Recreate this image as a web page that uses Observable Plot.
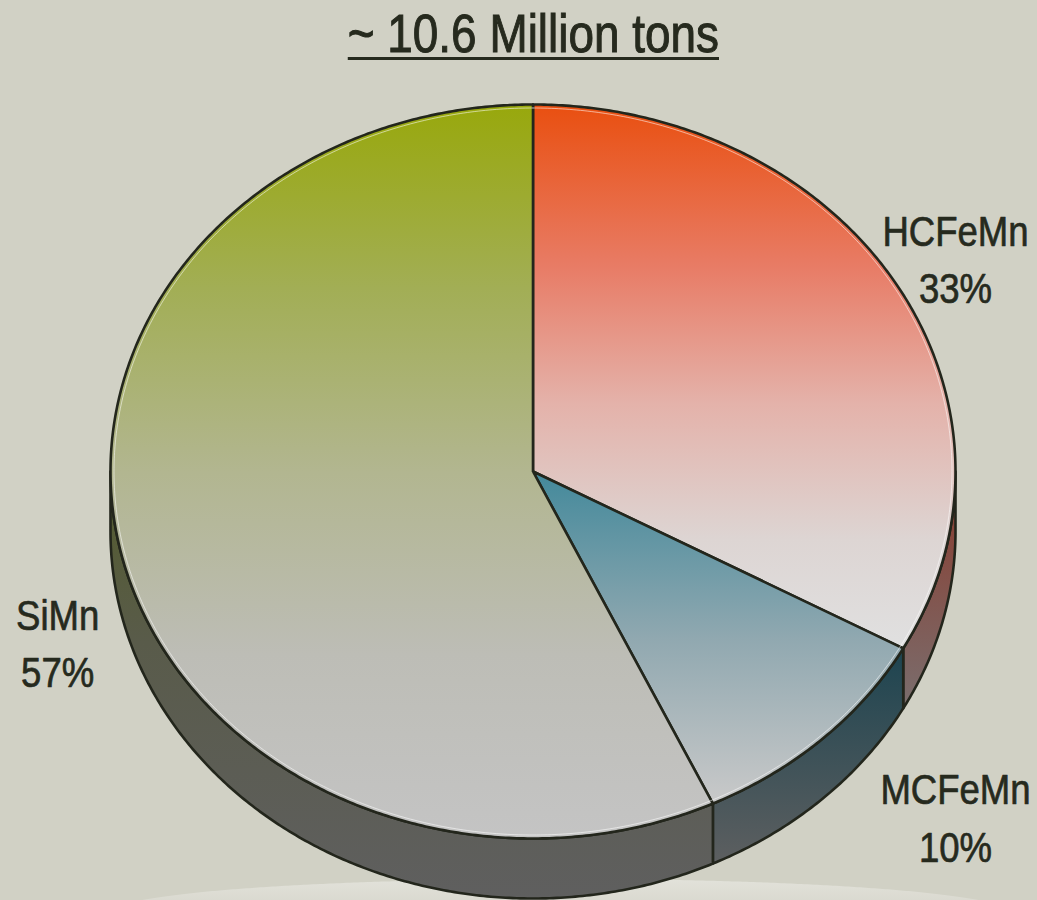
<!DOCTYPE html>
<html><head><meta charset="utf-8">
<script src="https://cdn.jsdelivr.net/npm/d3@7"></script>
<script src="https://cdn.jsdelivr.net/npm/@observablehq/plot@0.6"></script>
<style>
html,body{margin:0;padding:0;background:#d1d1c5;}
body{width:1037px;height:900px;overflow:hidden;font-family:"Liberation Sans",Arial,sans-serif;}
#title{height:80px;box-sizing:border-box;padding-top:6px;text-align:center;font-size:54px;line-height:54px;color:#262a1e;white-space:nowrap;}
#title span{display:inline-block;position:relative;left:15px;transform:scaleX(0.85);transform-origin:center;text-decoration:underline;text-decoration-thickness:3px;text-underline-offset:5px;-webkit-text-stroke:1px #262a1e;}
#chart svg{display:block;}
</style></head><body>
<div id="title"><span>~ 10.6 Million tons</span></div>
<div id="chart"></div>
<script>
// ---- data ----
const categories = ["HCFeMn", "MCFeMn", "SiMn"];
const shares = [33, 10, 57];
const percentLabels = ["33%", "10%", "57%"];

// ---- layout (unit-ellipse coordinates, not data) ----
const depth = 0.1635;               // thickness of the disc
const labelPos = {HCFeMn: [1.0, 0.586], MCFeMn: [1.0, -0.935], SiMn: [-1.125, -0.46]};
const topGrad = {
  HCFeMn: [[0, "#e94f10"], [0.3, "#e87c66"], [0.55, "#e4b2aa"], [0.8, "#ddd5d3"], [1, "#e0e0e0"]],
  MCFeMn: [[0, "#43899b"], [0.5, "#90a8b0"], [1, "#c9c9c9"]],
  SiMn:   [[0, "#98a80c"], [0.25, "#a2ae55"], [0.5, "#b2b690"], [0.75, "#bdbdb6"], [1, "#c4c4c4"]]
};
const sideGrad = {
  HCFeMn: [[0, "#8a3a2c"], [1, "#7a6e6e"]],
  MCFeMn: [[0, "#1d4450"], [1, "#5d5f60"]],
  SiMn:   [[0, "#535c2c"], [0.4, "#595b4a"], [1, "#5f5f5f"]]
};

const total = d3.sum(shares);
const TAU = 2 * Math.PI;
function arc(a0, a1, dy = 0, scale = 1) {
  const n = Math.max(2, Math.ceil((a1 - a0) / (Math.PI / 360)));
  return d3.range(n + 1).map(i => {
    const t = a0 + (a1 - a0) * i / n;
    return {x: scale * Math.sin(t), y: scale * Math.cos(t) - dy};
  });
}
let acc = 0;
const slices = categories.map((c, i) => {
  const a0 = acc / total * TAU;
  acc += shares[i];
  const a1 = acc / total * TAU;
  return {c, i, a0, a1};
});

const marks = [];
// soft floor reflection
const shadow = arc(0, TAU).map(p => ({x: 0.065 + 1.06 * p.x, y: -1.2 + 0.09 * p.y}));
marks.push(Plot.line(shadow, {x: "x", y: "y", fill: "url(#floor)", stroke: "none"}));

// side walls (front half only)
for (const s of slices) {
  const lo = Math.max(s.a0, Math.PI / 2), hi = Math.min(s.a1, 1.5 * Math.PI);
  if (lo >= hi) continue;
  const upper = arc(lo, hi);
  const lower = arc(lo, hi, depth).reverse();
  const poly = [...upper, ...lower, upper[0]];
  marks.push(Plot.line(poly, {x: "x", y: "y", fill: `url(#side${s.i})`, stroke: "#23261c", strokeWidth: 2.6, strokeLinejoin: "round"}));
}
// top faces
for (const s of slices) {
  const poly = [{x: 0, y: 0}, ...arc(s.a0, s.a1), {x: 0, y: 0}];
  marks.push(Plot.line(poly, {x: "x", y: "y", fill: `url(#top${s.i})`, stroke: "#23261c", strokeWidth: 2.6, strokeLinejoin: "round"}));
}
// rim highlight
const rim = arc(0, TAU).map(p => ({x: p.x * (1 - 3.5 / 422.5), y: p.y * (1 - 3.5 / 367)}));
marks.push(Plot.line(rim, {x: "x", y: "y", stroke: "#ffffff", strokeOpacity: 0.55, strokeWidth: 1}));

// labels
const labelData = categories.map((c, i) => ({x: labelPos[c][0], y: labelPos[c][1], text: `${c}\n${percentLabels[i]}`}));
marks.push(Plot.text(labelData, {
  x: "x", y: "y", text: "text", fontSize: 43, lineHeight: 1.33, fill: "#262a1e",
  stroke: "#262a1e", strokeWidth: 0.7,
  fontFamily: '"Liberation Sans",Arial,sans-serif'
}));

const svg = Plot.plot({
  width: 1037, height: 820,
  marginLeft: 110, marginRight: 82, marginTop: 24, marginBottom: 62,
  x: {domain: [-1, 1], axis: null},
  y: {domain: [-1, 1], axis: null},
  style: {background: "#d1d1c5", overflow: "hidden"},
  marks
});

const grad = (id, stops) => `<linearGradient id="${id}" x1="0" y1="0" x2="0" y2="1">` +
  stops.map(([o, c]) => `<stop offset="${o}" stop-color="${c}"/>`).join("") + `</linearGradient>`;
let defs = grad("floor", [[0, "#e2e2da"], [0.5, "#d6d5cb"], [1, "#b9b5a9"]]);
slices.forEach(s => { defs += grad(`top${s.i}`, topGrad[s.c]) + grad(`side${s.i}`, sideGrad[s.c]); });
d3.select(svg).insert("defs", ":first-child").html(defs);
// condensed look: squeeze label glyphs horizontally around their anchor
d3.select(svg).selectAll("g[aria-label='text'] text").each(function () {
  const t = this.getAttribute("transform") || "";
  const x = this.getAttribute("x"), y = this.getAttribute("y");
  let base = t;
  if (x != null || y != null) {
    base = `translate(${x || 0},${y || 0}) ` + t;
    this.removeAttribute("x"); this.removeAttribute("y");
  }
  this.setAttribute("transform", base + " scale(0.85,1)");
});
document.getElementById("chart").appendChild(svg);
</script>
</body></html>
